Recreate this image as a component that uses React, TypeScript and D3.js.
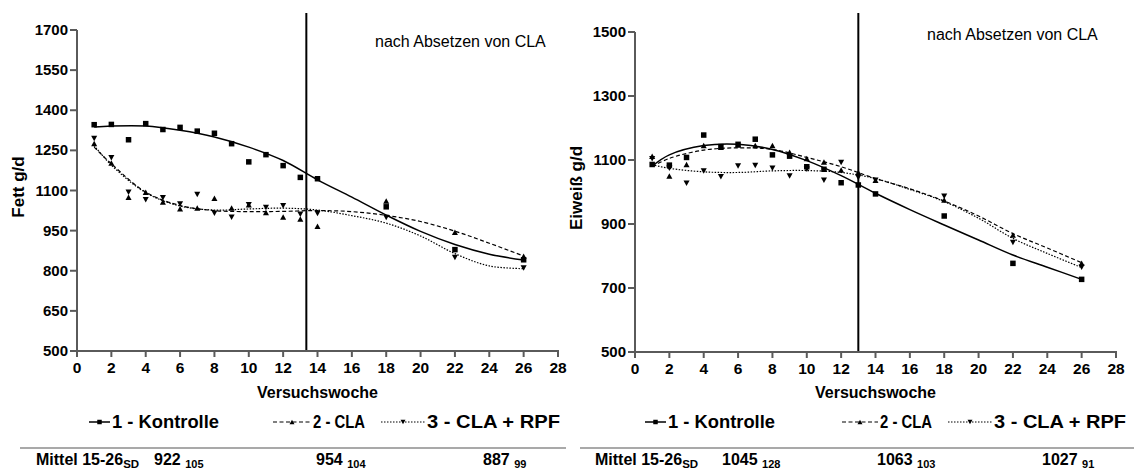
import React from 'react';
import * as d3 from 'd3';

// ---------- DATA ----------
const weeks = [1, 2, 3, 4, 5, 6, 7, 8, 9, 10, 11, 12, 13, 14, 18, 22, 26];

const fatKontrolle = [1346, 1347, 1290, 1350, 1328, 1336, 1322, 1314, 1275, 1207, 1234, 1193, 1149, 1144, 1039, 879, 841];
const fatCLA = [1276, 1203, 1075, 1093, 1057, 1032, 1035, 1071, 1035, 1047, 1018, 1001, 993, 966, 1061, 944, 854];
const fatRPF = [1294, 1222, 1093, 1065, 1073, 1050, 1085, 1015, 1000, 1047, 1036, 1043, 1011, 1014, 999, 850, 810];

const protKontrolle = [1086, 1084, 1108, 1178, 1142, 1149, 1165, 1116, 1112, 1079, 1071, 1029, 1022, 994, 925, 777, 727];
const protCLA = [1112, 1050, 1086, 1145, 1140, 1147, 1145, 1145, 1124, 1105, 1094, 1069, 1061, 1037, 975, 866, 777];
const protRPF = [1104, 1074, 1027, 1066, 1048, 1081, 1083, 1074, 1050, 1071, 1037, 1092, 1045, 1037, 987, 842, 765];

// fitted curves
const fitWeeks = [1, 2, 4, 6, 8, 10, 12, 14, 16, 18, 20, 22, 24, 26];
const fatFitKontrolle = [1337, 1341, 1341, 1325, 1300, 1262, 1212, 1140, 1075, 1008, 947, 898, 862, 840];
const fatFitCLA = [1262, 1200, 1094, 1044, 1025, 1021, 1022, 1025, 1021, 1007, 984, 948, 903, 855];
const fatFitRPF = [1268, 1195, 1092, 1042, 1027, 1031, 1034, 1027, 1006, 978, 930, 864, 818, 808];

const protFitKontrolle = [1081, 1116, 1145, 1149, 1133, 1098, 1051, 996, 945, 897, 850, 803, 765, 727];
const protFitCLA = [1080, 1105, 1131, 1138, 1133, 1108, 1079, 1042, 1010, 972, 925, 870, 825, 779];
const protFitRPF = [1085, 1074, 1063, 1061, 1066, 1067, 1061, 1042, 1008, 970, 918, 855, 808, 764];

const weekTicks = [0, 2, 4, 6, 8, 10, 12, 14, 16, 18, 20, 22, 24, 26, 28];
const fatTicks = [500, 650, 800, 950, 1100, 1250, 1400, 1550, 1700];
const protTicks = [500, 700, 900, 1100, 1300, 1500];

const seriesNames = ['1 - Kontrolle', '2 - CLA', '3 - CLA + RPF'];
const fatMeans = ['922', '954', '887'];
const fatSD = ['105', '104', '99'];
const protMeans = ['1045', '1063', '1027'];
const protSD = ['128', '103', '91'];

const cutFat = 13.35;
const cutProt = 13;

// ---------- DRAWING ----------
const FONT = '"Liberation Sans", Arial, Helvetica, sans-serif';
const styles = [
  { dash: undefined, width: 1.5, marker: 'square' },
  { dash: '4,2.5', width: 1.2, marker: 'up' },
  { dash: '1.5,1.5', width: 1.2, marker: 'down' },
];

function markerPath(kind: string, x: number, y: number, s: number) {
  const h = s / 2;
  if (kind === 'square') return `M${x - h},${y - h}h${s}v${s}h${-s}Z`;
  if (kind === 'up') return `M${x - h * 1.1},${y + h}L${x + h * 1.1},${y + h}L${x},${y - h}Z`;
  return `M${x - h * 1.1},${y - h}L${x + h * 1.1},${y - h}L${x},${y + h}Z`;
}

type PanelProps = {
  x0: number; x1: number; yTop: number; yBot: number;
  yDomain: [number, number]; yTicks: number[]; yLabel: string; yLabelX: number; yLabelY: number;
  data: number[][]; fits: number[][]; cut: number;
  annX: number; annY: number;
  legend: { line: [number, number]; text: [number, number] }[];
  legendY: number;
  sepX: [number, number]; sepY: number;
  mittelX: number; meanX: number[]; means: string[]; sds: string[]; rowY: number;
};

function Panel(p: PanelProps) {
  const x = d3.scaleLinear().domain([0, 28]).range([p.x0, p.x1]);
  const y = d3.scaleLinear().domain(p.yDomain).range([p.yBot, p.yTop]);
  const line = d3.line<[number, number]>().x(d => x(d[0])).y(d => y(d[1])).curve(d3.curveCatmullRom.alpha(0.5));
  const axisColor = '#5a5a5a';
  return (
    <g>
      {p.fits.map((f, i) => (
        <path key={'f' + i} d={line(fitWeeks.map((w, j) => [w, f[j]] as [number, number])) || ''}
          fill="none" stroke="#000" strokeWidth={styles[i].width} strokeDasharray={styles[i].dash} />
      ))}
      {p.data.map((s, i) => (
        <g key={'m' + i}>
          {s.map((v, j) => (
            <path key={j} d={markerPath(styles[i].marker, x(weeks[j]), y(v), 5.5)} fill="#000" />
          ))}
        </g>
      ))}
      <line x1={x(p.cut)} x2={x(p.cut)} y1={13} y2={p.yBot} stroke="#000" strokeWidth={2} />
      <line x1={p.x0} x2={p.x0} y1={p.yTop} y2={p.yBot + 1} stroke={axisColor} strokeWidth={2} />
      <line x1={p.x0} x2={p.x1 + 1} y1={p.yBot} y2={p.yBot} stroke={axisColor} strokeWidth={2} />
      {p.yTicks.map(t => (
        <g key={'yt' + t}>
          <line x1={p.x0 - 7} x2={p.x0} y1={y(t)} y2={y(t)} stroke={axisColor} strokeWidth={2} />
          <text x={p.x0 - 9} y={y(t) + 5} textAnchor="end" fontFamily={FONT} fontWeight="bold" fontSize={15}>{t}</text>
        </g>
      ))}
      {weekTicks.map(t => (
        <g key={'xt' + t}>
          <line x1={x(t)} x2={x(t)} y1={p.yBot} y2={p.yBot + 6} stroke={axisColor} strokeWidth={2} />
          <text x={x(t)} y={p.yBot + 22} textAnchor="middle" fontFamily={FONT} fontWeight="bold" fontSize={15.5}>{t}</text>
        </g>
      ))}
      <text x={(p.x0 + p.x1) / 2} y={398} textAnchor="middle" fontFamily={FONT} fontWeight="bold" fontSize={16}>Versuchswoche</text>
      <text transform={`translate(${p.yLabelX},${p.yLabelY}) rotate(-90)`} textAnchor="middle" fontFamily={FONT} fontWeight="bold" fontSize={17}>{p.yLabel}</text>
      <text x={p.annX} y={p.annY} fontFamily={FONT} fontSize={16}>nach Absetzen von CLA</text>
      {p.legend.map((l, i) => (
        <g key={'lg' + i}>
          <line x1={l.line[0]} x2={l.line[1]} y1={p.legendY - 6} y2={p.legendY - 6} stroke="#000" strokeWidth={styles[i].width} strokeDasharray={styles[i].dash} />
          <path d={markerPath(styles[i].marker, (l.line[0] + l.line[1]) / 2, p.legendY - 6, 4.5)} fill="#000" />
          <text x={l.text[0]} y={p.legendY} fontFamily={FONT} fontWeight="bold" fontSize={17.5}
            textLength={l.text[1] - l.text[0]} lengthAdjust="spacingAndGlyphs">{seriesNames[i]}</text>
        </g>
      ))}
      <line x1={p.sepX[0]} x2={p.sepX[1]} y1={p.sepY} y2={p.sepY} stroke="#555" strokeWidth={1.2} />
      <text x={p.mittelX} y={p.rowY} fontFamily={FONT} fontWeight="bold" fontSize={16}>
        Mittel 15-26<tspan fontSize={11.5} dy={3}>SD</tspan>
      </text>
      {p.means.map((m, i) => (
        <text key={'mn' + i} x={p.meanX[i]} y={p.rowY} fontFamily={FONT} fontWeight="bold" fontSize={16}>
          {m + ' '}<tspan fontSize={11} dy={3}>{p.sds[i]}</tspan>
        </text>
      ))}
    </g>
  );
}

export default function App() {
  return (
    <svg width={1134} height={473} style={{ position: 'absolute', left: 0, top: 0, background: '#fff' }}>
      <rect x={0} y={0} width={1134} height={473} fill="#fff" />
      <Panel x0={77} x1={558} yTop={30} yBot={351} yDomain={[500, 1700]} yTicks={fatTicks}
        yLabel="Fett g/d" yLabelX={24} yLabelY={187}
        data={[fatKontrolle, fatCLA, fatRPF]} fits={[fatFitKontrolle, fatFitCLA, fatFitRPF]} cut={cutFat}
        annX={375} annY={47}
        legend={[{ line: [89, 110], text: [112, 219] }, { line: [273, 311], text: [313, 365] }, { line: [381, 425], text: [427, 560] }]}
        legendY={428} sepX={[20, 566]} sepY={448}
        mittelX={36} meanX={[154, 316, 483]} means={fatMeans} sds={fatSD} rowY={465} />
      <Panel x0={635} x1={1116} yTop={32} yBot={352} yDomain={[500, 1500]} yTicks={protTicks}
        yLabel="Eiweiß g/d" yLabelX={582} yLabelY={188}
        data={[protKontrolle, protCLA, protRPF]} fits={[protFitKontrolle, protFitCLA, protFitRPF]} cut={cutProt}
        annX={927} annY={40}
        legend={[{ line: [645, 666], text: [668, 775] }, { line: [842, 878], text: [880, 932] }, { line: [948, 992], text: [994, 1126] }]}
        legendY={428} sepX={[580, 1134]} sepY={448}
        mittelX={595} meanX={[722, 877, 1042]} means={protMeans} sds={protSD} rowY={465} />
    </svg>
  );
}
